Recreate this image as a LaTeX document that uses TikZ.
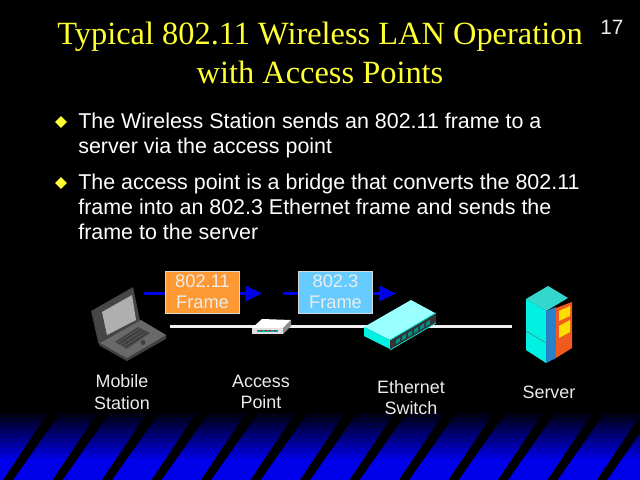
\documentclass[tikz,border=0pt]{standalone}
\usepackage{fontspec}
\setmainfont{Liberation Sans}
\newfontfamily\titlefont{Liberation Serif}
\usetikzlibrary{arrows.meta,shapes.geometric}
\begin{document}
\begin{tikzpicture}[x=0.02cm,y=-0.02cm]
  % Colors
  \definecolor{titlecol}{RGB}{255,255,51}
  \definecolor{labelcol}{RGB}{235,235,235}
  \definecolor{flowcol}{RGB}{0,0,235}
  \definecolor{orangecol}{RGB}{255,153,51}
  \definecolor{skycol}{RGB}{102,204,255}
  \definecolor{lidcol}{RGB}{70,70,70}
  \definecolor{basecol}{RGB}{105,105,105}
  \definecolor{screencol}{RGB}{175,175,175}
  \definecolor{swtopcol}{RGB}{153,255,255}
  \definecolor{tealcol}{RGB}{0,240,225}
  \definecolor{srvtopcol}{RGB}{51,215,205}
  \definecolor{srvbluecol}{RGB}{40,130,200}
  \definecolor{srvredcol}{RGB}{240,90,30}
  %
  \tikzset{
    bodytext/.style={text=white, anchor=north west, align=left, inner sep=0pt,
                     font=\fontsize{12.2}{14.4}\selectfont},
    mark bullet/.style={diamond, fill=titlecol, inner sep=0pt, minimum size=6.8pt},
    framebox/.style={draw=black!15, thin, minimum width=42.5pt, minimum height=24pt, inner sep=0pt,
                     align=center, text=labelcol, font=\fontsize{10.4}{12}\selectfont},
    devlabel/.style={text=labelcol, align=center, inner sep=0pt,
                     font=\fontsize{10.2}{12.4}\selectfont},
    flow/.style={draw=flowcol, line width=1.7pt},
    flowtip/.style={flow, -{Triangle[length=9.5pt,width=8.6pt]}},
    wire/.style={draw=black!6, line width=1.2pt},
  }
  %
  % === BACKGROUND ===
  \fill[black] (0,0) rectangle (640,480);
  \useasboundingbox (0,0) rectangle (640,480);
  %
  % === FOOTER BANDS ===
  \foreach \n in {0,...,9} {
    \pgfmathsetmacro{\shadeval}{10+\n*10}
    \fill[flowcol!\shadeval!black] (0,{413+\n*5}) rectangle (640,{418.2+\n*5});
  }
  \fill[flowcol] (0,463) rectangle (640,480);
  \begin{scope}
    \clip (0,413) rectangle (640,480);
    \foreach \n in {0,...,12} {
      \fill[black] ({3+\n*49.5},480) -- ({13+\n*49.5},480) -- ({60+\n*49.5},413) -- ({48+\n*49.5},413) -- cycle;
    }
  \end{scope}
  %
  % === TITLE ===
  \node[text=titlecol, align=center, inner sep=0pt, font=\titlefont\fontsize{18.45}{22.2}\selectfont]
    (title) at (320,53) {Typical 802.11 Wireless LAN Operation\\with Access Points};
  \node[text=labelcol, inner sep=0pt, font=\fontsize{11.8}{14}\selectfont] (pagenum) at (612,27) {17};
  %
  % === BULLETS ===
  \node[mark bullet] (bulletA) at (61,122) {};
  \node[bodytext] (textA) at (78,112.5) {The Wireless Station sends an 802.11 frame to a\\server via the access point};
  \node[mark bullet] (bulletB) at (61,183) {};
  \node[bodytext] (textB) at (78,173.5) {The access point is a bridge that converts the 802.11\\frame into an 802.3 Ethernet frame and sends the\\frame to the server};
  %
  % === WIRE ===
  \coordinate (wirestart) at (170,326.5);
  \coordinate (wireend) at (512,326.5);
  \draw[wire] (wirestart) -- (wireend);
  %
  % === FRAME BOXES AND FLOW ARROWS ===
  \node[framebox, fill=orangecol] (frameA) at (202.5,292) {802.11\\Frame};
  \node[framebox, fill=skycol] (frameB) at (335.5,292) {802.3\\Frame};
  \coordinate (tailA) at (144,293.5);
  \coordinate (headA) at (262,293.5);
  \coordinate (tailB) at (283,293.5);
  \coordinate (headB) at (396,293.5);
  \draw[flow] (tailA) -- (frameA.west |- tailA);
  \draw[flowtip] (frameA.east |- headA) -- (headA);
  \draw[flow] (tailB) -- (frameB.west |- tailB);
  \draw[flowtip] (frameB.east |- headB) -- (headB);
  %
  % === MOBILE STATION ===
  \fill[black!75] (91,311) -- (133,287) -- (140,320) -- (141,322) -- (166,335) -- (166,339) -- (127,361) -- (100,346) -- (98,342) -- cycle;
  \fill[lidcol] (92,311) -- (133,288) -- (139,320) -- (99,342) -- cycle;
  \fill[screencol] (102,312) -- (132,295) -- (136,320) -- (107,335) -- cycle;
  \fill[basecol] (100,343) -- (141,320) -- (166,335) -- (127,358) -- cycle;
  \fill[black!75] (115,342) -- (138,327) -- (150,333) -- (127,349) -- cycle;
  \foreach \n in {0,1,2,3} {
    \draw[basecol, very thin] ({117+\n*3},{343+\n*2}) -- ({140+\n*3},{328+\n*2});
  }
  \draw[black!75, very thin] (127,358) -- (127,361);
  \fill[black!75] (143,342.5) circle (2.5);
  %
  % === ACCESS POINT ===
  \fill[white] (252,328) -- (262,319) -- (291,320) -- (283,328) -- cycle;
  \fill[black!12] (252,328) -- (283,328) -- (283,334) -- (252,334) -- cycle;
  \fill[black!45] (283,328) -- (291,320) -- (291,326) -- (283,334) -- cycle;
  \fill[tealcol!70!black] (257,329.5) rectangle (278,332);
  \foreach \n in {0,1,2,3} {
    \fill[red] ({260+\n*4.5},329.5) rectangle ({262+\n*4.5},331);
  }
  %
  % === ETHERNET SWITCH ===
  \fill[swtopcol] (364,327) -- (411,300) -- (435,313) -- (390,340) -- cycle;
  \fill[tealcol] (364,327) -- (390,340) -- (390,349) -- (364,336) -- cycle;
  \fill[black!80] (390,340) -- (436,313) -- (436,323) -- (390,350) -- cycle;
  \draw[tealcol, thin] (390,340) -- (436,313);
  \draw[tealcol, thin] (390,350) -- (436,323);
  \foreach \n in {0,...,5} {
    \fill[tealcol!60!black] ({396+\n*6},{340-\n*3.5}) -- ({400+\n*6},{337.5-\n*3.5}) -- ({400+\n*6},{341.5-\n*3.5}) -- ({396+\n*6},{344-\n*3.5}) -- cycle;
  }
  %
  % === SERVER ===
  \fill[srvtopcol] (526,299) -- (548,286) -- (568,298) -- (546,311) -- cycle;
  \fill[tealcol] (526,299) -- (546,311) -- (546,363) -- (526,350) -- cycle;
  \fill[srvbluecol] (546,311) -- (556,307) -- (556,358) -- (546,363) -- cycle;
  \fill[srvredcol] (556,308) -- (572,302) -- (572,348) -- (556,358) -- cycle;
  \fill[yellow!80!orange] (559,311) -- (570,306) -- (570,316) -- (559,321) -- cycle;
  \fill[yellow!80!orange] (559,326) -- (570,320) -- (570,332) -- (559,338) -- cycle;
  \draw[black!60, very thin] (526,331) -- (546,343);
  %
  % === DEVICE LABELS ===
  \node[devlabel] (mobilelabel) at (122,392) {Mobile\\Station};
  \node[devlabel] (accesslabel) at (261,392) {Access\\Point};
  \node[devlabel] (switchlabel) at (411,397.5) {Ethernet\\Switch};
  \node[devlabel] (serverlabel) at (549,392) {Server};
  %
\end{tikzpicture}
\end{document}
